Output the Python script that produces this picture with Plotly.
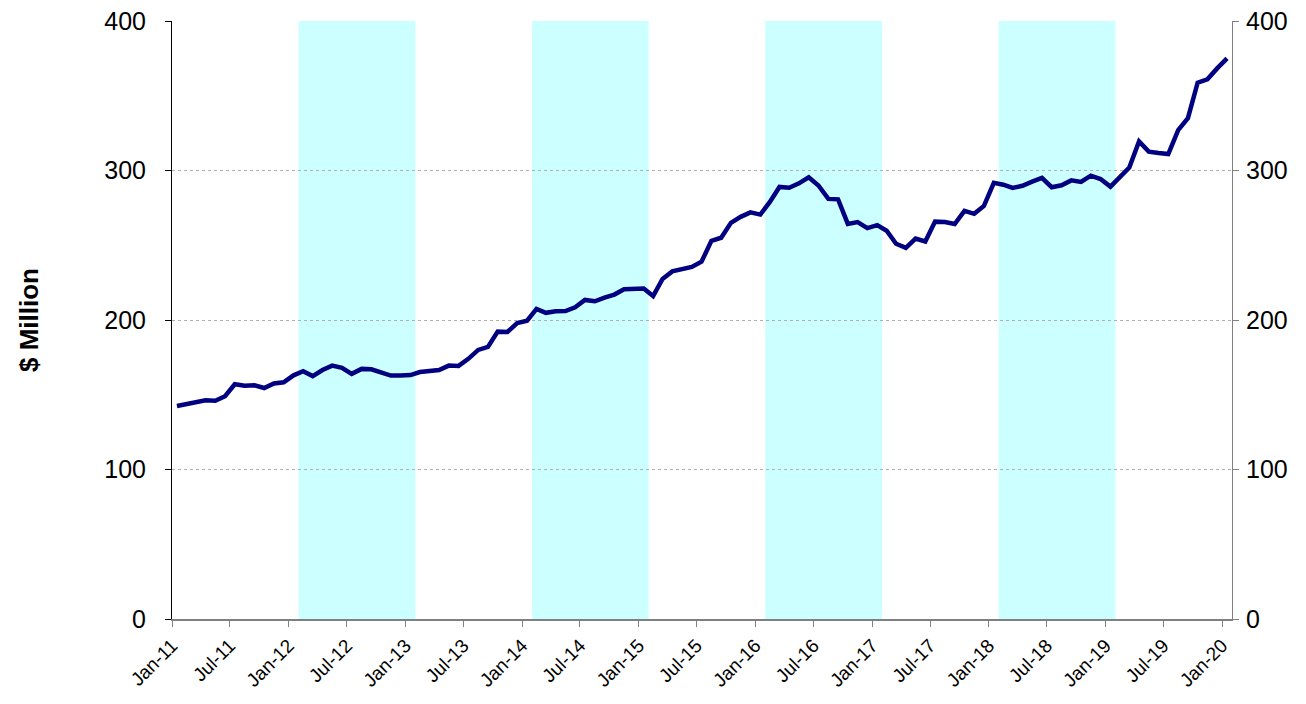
import pandas as pd
import plotly.graph_objects as go

# ---- data ----
start_month = "2011-01-01"
values = [
    142.5, 144, 145.5, 146.3, 146, 149, 157, 156, 156.3, 154.5, 157.5, 158.3,
    163, 165.7, 162.5, 166.5, 169.5, 168, 164, 167.3, 167, 165.2, 162.8, 162.8,
    163.2, 165.2, 165.7, 166.5, 169.5, 169.3, 174, 180, 182, 192.2, 192, 198,
    199.5, 207.4, 204.8, 205.8, 206, 208.5, 213.4, 212.5, 215, 217, 220.6, 220.7,
    221, 216, 227.5, 232.5, 233.8, 235.5, 239, 253, 255, 265, 269, 272,
    270.5, 279, 289, 288.5, 291.4, 295.5, 290, 281, 280.7, 264.3, 265.5, 261.5,
    263.5, 259.7, 251, 248.3, 254.5, 252.5, 265.8, 265.6, 264.2, 273, 271, 276.3,
    291.8, 290.5, 288.3, 289.8, 292.6, 295, 288.8, 290.1, 293.4, 292.3, 296.5, 294.3,
    289.2, 296, 302, 319.5, 312.6, 311.7, 311, 327, 335, 358.7, 361, 368.3,
    375,
]
months = pd.date_range(start_month, periods=len(values), freq="MS")

shade_starts = ["2012-02-01", "2014-02-01", "2016-02-01", "2018-02-01"]
shade_ends = ["2013-02-01", "2015-02-01", "2017-02-01", "2019-02-01"]

x_range = ["2011-01-01", "2020-02-01"]
y_range = [0, 400]
y_ticks = [0, 100, 200, 300, 400]

FONT = "Liberation Sans, Arial, sans-serif"

fig = go.Figure()
fig.add_trace(go.Scatter(
    x=months, y=values, mode="lines",
    xperiod="M1", xperiodalignment="middle",
    line=dict(color="#000080", width=4.5),
    hoverinfo="x+y", showlegend=False,
))
# twin for the right-hand axis
fig.add_trace(go.Scatter(
    x=months, y=values, mode="lines", yaxis="y2",
    xperiod="M1", xperiodalignment="middle",
    line=dict(color="rgba(0,0,0,0)", width=0),
    hoverinfo="skip", showlegend=False,
))

for s, e in zip(shade_starts, shade_ends):
    fig.add_shape(type="rect", xref="x", yref="paper", x0=s, x1=e, y0=0, y1=1,
                  fillcolor="#CCFFFF", line=dict(width=0), layer="below")

fig.update_layout(
    width=1290, height=688,
    margin=dict(l=164, r=66, t=13, b=77, autoexpand=False),
    paper_bgcolor="white", plot_bgcolor="white",
    font=dict(family=FONT, color="black"),
    xaxis=dict(
        type="date", range=x_range, dtick="M6", tick0="2011-01-01",
        tickformat="%b-%y", tickangle=-45, tickfont=dict(size=19),
        showgrid=False, showline=True, linecolor="#808080", linewidth=2,
        ticks="outside", ticklen=6, tickcolor="#808080", tickwidth=1,
        zeroline=False, automargin=False, ticklabeloverflow="allow",
    ),
    yaxis=dict(
        range=y_range, tickvals=y_ticks, tickfont=dict(size=25),
        showline=True, linecolor="black", linewidth=1,
        ticks="outside", ticklen=6, tickcolor="black",
        ticklabelstandoff=14, ticklabeloverflow="allow",
        showgrid=True, gridcolor="#B0B0B0", griddash="dot", gridwidth=1,
        zeroline=False, automargin=False,
        title=dict(text="<b>$ Million</b>", font=dict(size=26), standoff=58),
    ),
    yaxis2=dict(
        range=y_range, tickvals=y_ticks, tickfont=dict(size=25),
        overlaying="y", side="right",
        showline=True, linecolor="#808080", linewidth=1,
        ticks="outside", ticklen=6, tickcolor="#808080",
        ticklabelstandoff=2, ticklabeloverflow="allow",
        showgrid=False, zeroline=False, automargin=False,
    ),
)

fig.write_html("out.html")
